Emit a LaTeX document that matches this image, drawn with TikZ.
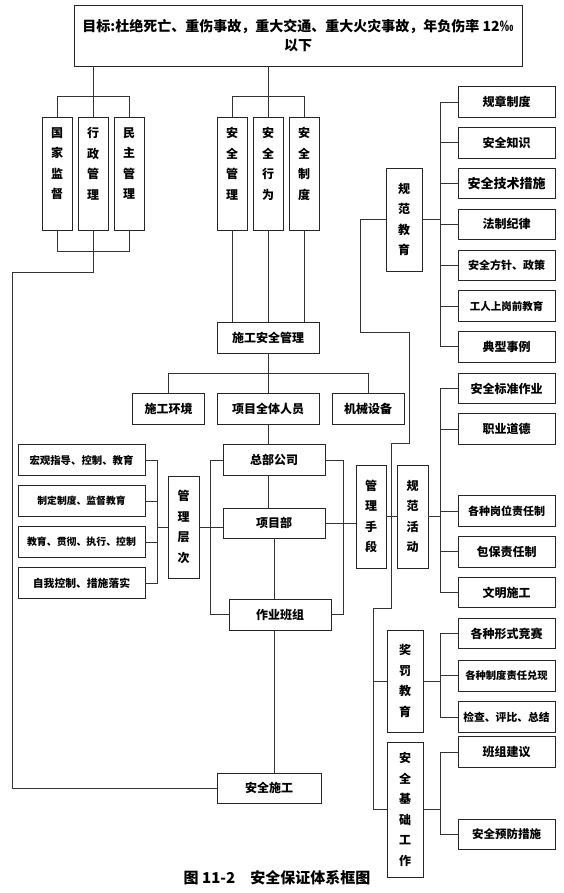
\documentclass[tikz,border=0pt]{standalone}
\usepackage{fontspec}
\setmainfont{Noto Sans CJK SC}
\usetikzlibrary{positioning}

\begin{document}
\begin{tikzpicture}[x=1pt, y=-1pt,
  box/.style={draw=black!85, line width=0.8pt, inner sep=0pt, minimum height=31pt, font=\bfseries\fontsize{12}{14}\selectfont},
  vbox/.style={box, align=center, minimum width=31pt, font=\bfseries\fontsize{12}{20.5}\selectfont},
  rbox/.style={box, minimum width=97pt, minimum height=30.5pt},
  lbox/.style={box, minimum width=127pt},
  link/.style={draw=black!80, line width=0.8pt}
]
\useasboundingbox (0,0) rectangle (564,893);

\node[box, minimum width=448pt, minimum height=61pt, align=center, font=\bfseries\fontsize{14}{19}\selectfont] (goal) at (298,35.5) {目标:杜绝死亡、重伤事故，重大交通、重大火灾事故，年负伤率 12‰\\以下};

\node[vbox, minimum width=30pt, minimum height=113pt] (gjjd) at (57,173.5) {国\\家\\监\\督\\\mbox{}};
\node[vbox, minimum width=30pt, minimum height=113pt, right=5.2pt of gjjd] (xzgl) {行\\政\\管\\理\\\mbox{}};
\node[vbox, minimum width=30pt, minimum height=113pt, right=5.2pt of xzgl] (mzgl) {民\\主\\管\\理\\\mbox{}};
\node[vbox, minimum width=30pt, minimum height=113pt] (aqgl) at (232,173.5) {安\\全\\管\\理\\\mbox{}};
\node[vbox, minimum width=30pt, minimum height=113pt, right=5.2pt of aqgl] (aqxw) {安\\全\\行\\为\\\mbox{}};
\node[vbox, minimum width=30pt, minimum height=113pt, right=5.2pt of aqxw] (aqzd) {安\\全\\制\\度\\\mbox{}};

\node[box, minimum width=102pt] (sgaqgl) at (268,337.5) {施工安全管理};
\node[box, minimum width=72pt] (sghj) at (168.5,409) {施工环境};
\node[box, minimum width=102pt] (xmqtry) at (268,409) {项目全体人员};
\node[box, minimum width=72pt] (jxsb) at (368,409) {机械设备};
\node[box, minimum width=102pt] (zbgs) at (274,460) {总部公司};
\node[box, minimum width=102pt, minimum height=30pt] (xmb) at (274,523) {项目部};
\node[box, minimum width=102pt] (zybz) at (280,614.5) {作业班组};
\node[box, minimum width=104pt, minimum height=30pt] (aqsg) at (269,788) {安全施工};

% 管理层次
\node[lbox, font=\bfseries\fontsize{10.4}{12}\selectfont] (hgzd) at (81.5,460) {宏观指导、控制、教育};
\node[lbox, font=\bfseries\fontsize{9.8}{12}\selectfont, below=9.2pt of hgzd] (zdzd) {制定制度、监督教育};
\node[lbox, font=\bfseries\fontsize{9.9}{12}\selectfont, below=9.2pt of zdzd] (jygc) {教育、贯彻、执行、控制};
\node[lbox, font=\bfseries\fontsize{10.8}{12}\selectfont, below=9.2pt of jygc] (zwks) {自我控制、措施落实};
\node[vbox, minimum height=102pt] (glcc) at (183.5,527) {管\\理\\层\\次};

\node[vbox, minimum width=30pt, minimum height=103pt] (glsd) at (371,516.5) {管\\理\\手\\段};
\node[vbox, minimum height=103pt] (gfhd) at (412.5,516.5) {规\\范\\活\\动};
\node[vbox, minimum width=36pt, minimum height=103pt] (gfjy) at (404,219.5) {规\\范\\教\\育};
\node[vbox, minimum width=36pt, minimum height=102pt] (jfjy) at (405,681) {奖\\罚\\教\\育};
\node[vbox, minimum width=36pt, minimum height=135pt] (aqjc) at (405,809.5) {安\\全\\基\\础\\工\\作};

% 规范教育
\node[rbox] (gzzd) at (506.5,102) {规章制度};
\node[rbox, below=9.5pt of gzzd] (aqzs) {安全知识};
\node[rbox, below=9.5pt of aqzs, font=\bfseries\fontsize{13}{14}\selectfont] (jscs) {安全技术措施};
\node[rbox, below=9.5pt of jscs] (fzjl) {法制纪律};
\node[rbox, below=9.5pt of fzjl, font=\bfseries\fontsize{11}{13}\selectfont] (fzzc) {安全方针、政策};
\node[rbox, below=9.5pt of fzzc, font=\bfseries\fontsize{10.5}{12}\selectfont] (gsjy) {工人上岗前教育};
\node[rbox, below=9.5pt of gsjy] (dxsl) {典型事例};

% 规范活动
\node[rbox] (aqbz) at (506.5,388.5) {安全标准作业};
\node[rbox, below=9.2pt of aqbz] (zydd) {职业道德};
\node[rbox, font=\bfseries\fontsize{11}{13}\selectfont] (gwzr) at (506.5,511) {各种岗位责任制};
\node[rbox, below=9.5pt of gwzr] (bbzr) {包保责任制};
\node[rbox, below=9.5pt of bbzr] (wmsg) {文明施工};

% 奖罚教育 / 安全基础工作
\node[rbox] (gsjs) at (506.5,633.5) {各种形式竞赛};
\node[rbox, below=11pt of gsjs, font=\bfseries\fontsize{10.3}{12}\selectfont] (zdzr) {各种制度责任兑现};
\node[rbox, below=10pt of zdzr, font=\bfseries\fontsize{10.8}{12}\selectfont] (jcpb) {检查、评比、总结};
\node[rbox] (bzjy) at (506.5,752) {班组建议};
\node[rbox, font=\bfseries\fontsize{11.5}{13}\selectfont] (yfcs) at (506.5,834.5) {安全预防措施};

\node[font=\bfseries\fontsize{15}{18}\selectfont] (caption) at (277,878) {图 11-2\quad 安全保证体系框图};

% top part
\draw[link] (goal.south -| xzgl.north) -- (xzgl.north);
\draw[link] (gjjd.north) -- ++(0,-20) -| (mzgl.north);
\draw[link] (goal.south -| aqxw.north) -- (aqxw.north);
\draw[link] (aqgl.north) -- ++(0,-20) -| (aqzd.north);
\draw[link] (gjjd.south) -- ++(0,21) -| (mzgl.south);
\coordinate (lrail) at (12,272);
\draw[link] (xzgl.south) |- (lrail) |- (aqsg.west);
\draw[link] (aqgl.south) -- (aqgl.south |- sgaqgl.north);
\draw[link] (aqxw.south) -- (aqxw.south |- sgaqgl.north);
\draw[link] (aqzd.south) -- (aqzd.south |- sgaqgl.north);

% middle part
\draw[link] (sgaqgl.south) -- (xmqtry.north);
\draw[link] (sghj.north) -- ++(0,-20) -| (jxsb.north);
\draw[link] (xmqtry.south) -- (xmqtry.south |- zbgs.north);
\draw[link] (zbgs.south -| xmqtry.south) -- (xmb.north -| xmqtry.south);
\draw[link] (xmb.south) -- (xmb.south |- zybz.north);
\draw[link] (zybz.south -| xmb.south) -- (aqsg.north -| xmb.south);
\draw[link] (zbgs.west) -- ++(-12,0) |- (zybz.west);
\draw[link] (zbgs.east) -- ++(18,0) |- (zybz.east);
\draw[link] (hgzd.east) -- ++(12,0) |- (zwks.east);
\draw[link] (zdzd.east) -- ++(12,0);
\draw[link] (jygc.east) -- ++(12,0);
\draw[link] (glcc.west) -- ++(-11,0);
\draw[link] (glcc.east) -- (glcc.east -| xmb.west);
\draw[link] (xmb.east) -- (xmb.east -| glsd.west);
\draw[link] (glsd.east) -- (gfhd.west);

% right part
\draw[link] (gfjy.east) -- ++(19,0);
\draw[link] (gzzd.west) -- ++(-17,0) |- (dxsl.west);
\draw[link] (aqzs.west) -- ++(-17,0);
\draw[link] (jscs.west) -- ++(-17,0);
\draw[link] (fzjl.west) -- ++(-17,0);
\draw[link] (fzzc.west) -- ++(-17,0);
\draw[link] (gsjy.west) -- ++(-17,0);
\draw[link] (gfhd.east) -- ++(13,0);
\draw[link] (aqbz.west) -- ++(-17,0) |- (wmsg.west);
\draw[link] (zydd.west) -- ++(-17,0);
\draw[link] (gwzr.west) -- ++(-17,0);
\draw[link] (bbzr.west) -- ++(-17,0);
\draw[link] (jfjy.east) -- ++(18,0);
\draw[link] (gsjs.west) -- ++(-17,0) |- (jcpb.west);
\draw[link] (zdzr.west) -- ++(-17,0);
\draw[link] (aqjc.east) -- ++(18,0);
\draw[link] (bzjy.west) -- ++(-17,0) |- (yfcs.west);
\draw[link] (gfjy.west) -- ++(-25,0) -- ++(0,112.5) -- ++(49,0) -- ++(0,111) -- ++(-18,0) -- ++(0,165) -- ++(-18,0) |- (aqjc.west);
\draw[link] (jfjy.west) -- ++(-13,0);
\end{tikzpicture}
\end{document}
